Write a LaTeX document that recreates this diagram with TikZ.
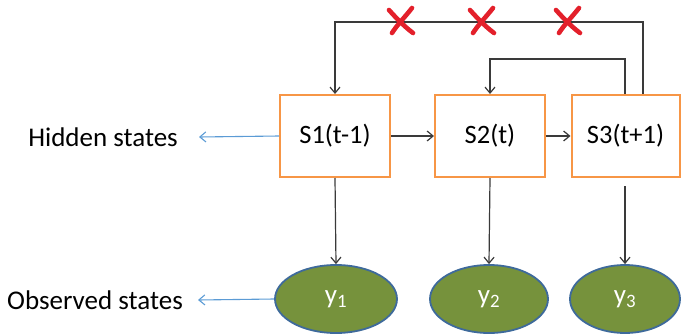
\documentclass[tikz,border=0pt]{standalone}
\usepackage{fontspec}
\setmainfont{Carlito}
\usetikzlibrary{arrows.meta,shapes.geometric}
\definecolor{boxorange}{HTML}{F79646}
\definecolor{obsgreen}{HTML}{76923C}
\definecolor{obsblue}{HTML}{3E6A9B}
\definecolor{linkgray}{HTML}{3A3A3A}
\definecolor{labelblue}{HTML}{5B9BD5}
\definecolor{crossred}{HTML}{E3202B}
\tikzset{
  state/.style={draw=boxorange, line width=2pt, fill=white, minimum height=82pt,
    inner sep=0pt, font=\fontsize{26.5}{30}\selectfont},
  obs/.style={ellipse, draw=obsblue, line width=1.8pt, fill=obsgreen, minimum height=68pt,
    inner sep=0pt, text=white, font=\fontsize{27}{30}\selectfont},
  lbl/.style={inner ysep=0pt, font=\fontsize{27}{32}\selectfont},
  arr/.style={draw=linkgray, line width=1.2pt, -{Straight Barb[length=6pt,width=10pt]}},
  bluearr/.style={draw=labelblue, line width=1.1pt, -{Straight Barb[length=6pt,width=10pt]}},
  cross/.style={draw=crossred, line width=4.6pt, line cap=round},
}
\newcommand{\redcross}[2]{%
  \draw[cross] (#1-12,#2-11) .. controls (#1-4,#2-2) and (#1+4,#2+6) .. (#1+12,#2+12);
  \draw[cross] (#1+11,#2-13) .. controls (#1+4,#2-4) and (#1-4,#2+4) .. (#1-9,#2+12);
}
\begin{document}
\begin{tikzpicture}[x=1pt,y=-1pt]
  \useasboundingbox (0,0) rectangle (681,335);

  % hidden state boxes
  \node[state, minimum width=110pt] (s1) at (335,136) {S1(t-1)};
  \node[state, minimum width=110pt] (s2) at (490,136) {S2(t)};
  \node[state, minimum width=108pt] (s3) at (625.5,136) {S3(t+1)};

  % observations
  \node[obs, minimum width=122pt] (y1) at (336,299) {y\textsubscript{1}};
  \node[obs, minimum width=118pt] (y2) at (489,299) {y\textsubscript{2}};
  \node[obs, minimum width=110pt] (y3) at (625,299) {y\textsubscript{3}};

  % row labels
  \node[lbl, anchor=east, inner xsep=21pt] (hid) at (199,137) {Hidden states};
  \node[lbl, anchor=east, inner xsep=15pt] (obsl) at (198,300) {Observed states};

  % forward transitions
  \draw[arr] (s1.east) -- (s2.west);
  \draw[arr] (s2.east) -- (s3.west);

  % emissions
  \draw[arr] (s1.south) -- (y1.north);
  \draw[arr] (s2.south) -- (y2.north);
  \draw[arr, shorten <=8pt] (s3.south -| y3.north) -- (y3.north);

  % feedback links from S3
  \coordinate (topR) at (643,22);
  \coordinate (midR) at (625,59);
  \draw[arr] (s3.north -| topR) -- (topR) -| (s1.north);
  \draw[arr] (s3.north -| midR) -- (midR) -| (s2.north);

  % crossed-out long-range links
  \redcross{401}{21}
  \redcross{482}{21}
  \redcross{568}{21}

  % label pointers
  \draw[bluearr] (s1.west) -- (hid.east);
  \draw[bluearr] (y1.west) -- (obsl.east);
\end{tikzpicture}
\end{document}
